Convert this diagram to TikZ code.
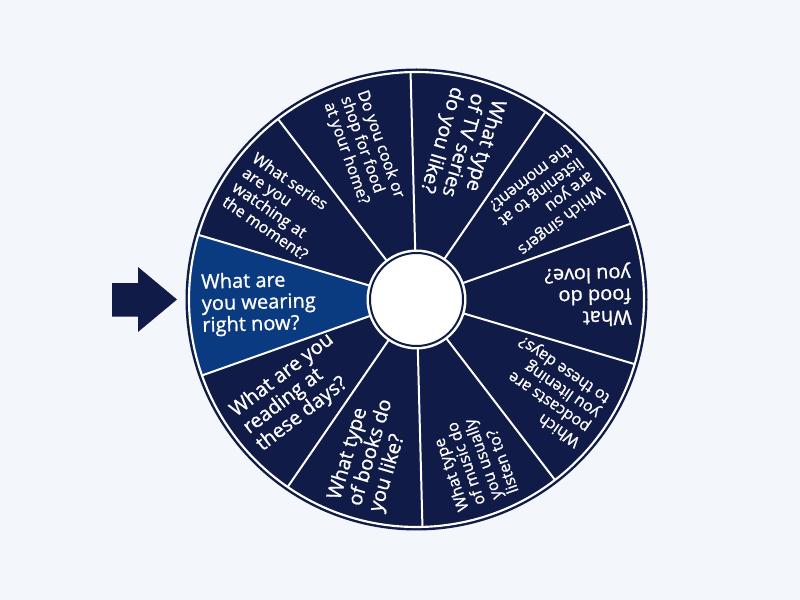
\documentclass[tikz,border=0pt]{standalone}
\usepackage{fontspec}
\newfontfamily\wheelfont{Open Sans}[FakeBold=1.0]
\definecolor{pagebg}{HTML}{F3F6FB}
\definecolor{wheelnavy}{HTML}{111B48}
\definecolor{wheelblue}{HTML}{0A3A80}

\tikzset{
	question/.style={white, inner sep=0pt, anchor=west, align=left},
	bigq/.style={question, font=\wheelfont\fontsize{15}{16.2}\selectfont},
	smallq/.style={question, font=\wheelfont\fontsize{12}{13.2}\selectfont},
	spoke/.style={white, line width=1.5pt}
}

\begin{document}
\begin{tikzpicture}[x=0.75pt, y=0.75pt]
		\fill[pagebg] (0,0) rectangle (800,600);
		\useasboundingbox (0,0) rectangle (800,600);
		\coordinate (c) at (416.5,300.5);
		% wheel and the chosen sector
		\fill[wheelnavy] (c) circle (231);
		\fill[wheelblue] (c) -- ([shift={(163.5:227)}]c) arc[start angle=163.5, end angle=199.5, radius=227] -- cycle;
		\draw[white, line width=1.6pt] (c) circle (227.5);
		% spokes
		\draw[spoke] ([shift={(19.5:48)}]c) -- ([shift={(19.5:227)}]c);
		\draw[spoke] ([shift={(55.5:48)}]c) -- ([shift={(55.5:227)}]c);
		\draw[spoke] ([shift={(91.5:48)}]c) -- ([shift={(91.5:227)}]c);
		\draw[spoke] ([shift={(127.5:48)}]c) -- ([shift={(127.5:227)}]c);
		\draw[spoke] ([shift={(163.5:48)}]c) -- ([shift={(163.5:227)}]c);
		\draw[spoke] ([shift={(199.5:48)}]c) -- ([shift={(199.5:227)}]c);
		\draw[spoke] ([shift={(235.5:48)}]c) -- ([shift={(235.5:227)}]c);
		\draw[spoke] ([shift={(271.5:48)}]c) -- ([shift={(271.5:227)}]c);
		\draw[spoke] ([shift={(307.5:48)}]c) -- ([shift={(307.5:227)}]c);
		\draw[spoke] ([shift={(343.5:48)}]c) -- ([shift={(343.5:227)}]c);
		% hub
		\fill[white] (c) circle (50);
		\draw[wheelnavy, line width=1.5pt] (c) circle (46.5);
		% pointer
		\fill[wheelnavy] (112,283.3) -- (138,283.3) -- (138,268) -- (177,300.5) -- (138,333) -- (138,316.8) -- (112,316.8) -- cycle;
		% questions
		\node[bigq, rotate=1.5] (wear) at ([shift={(181.5:215)}]c) {What are\\you wearing\\right now?};
		\node[smallq, rotate=325.5] (series) at ([shift={(145.5:215)}]c) {What series\\are you\\watching at\\the moment?};
		\node[smallq, rotate=289.5] (cook) at ([shift={(109.5:215)}]c) {Do you cook or\\shop for food\\at your home?};
		\node[bigq, rotate=253.5] (tv) at ([shift={(73.5:215)}]c) {What type\\of TV series\\do you like?};
		\node[smallq, rotate=217.5] (singers) at ([shift={(37.5:215)}]c) {Which singers\\are you\\listening to at\\the moment?};
		\node[bigq, rotate=181.5] (food) at ([shift={(1.5:215)}]c) {What\\food do\\you love?};
		\node[smallq, rotate=145.5] (podcasts) at ([shift={(325.5:215)}]c) {Which\\podcasts are\\you litening\\to these days?};
		\node[smallq, rotate=109.5] (music) at ([shift={(289.5:215)}]c) {What type\\of music do\\you usually\\listen to?};
		\node[bigq, rotate=73.5] (books) at ([shift={(253.5:215)}]c) {What type\\of books do\\you like?};
		\node[bigq, rotate=37.5] (reading) at ([shift={(217.5:215)}]c) {What are you\\reading at\\these days?};
	\end{tikzpicture}
\end{document}
